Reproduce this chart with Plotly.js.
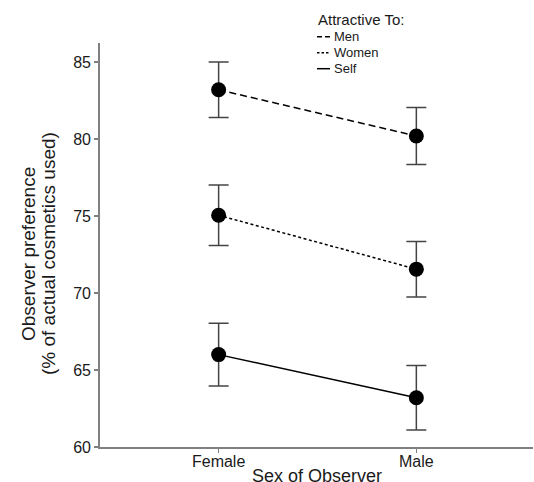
<!DOCTYPE html>
<html>
<head>
<meta charset="utf-8">
<script src="https://cdn.plot.ly/plotly-3.0.1.min.js"></script>
<style>html,body{margin:0;padding:0;background:#fff;}#chart{width:534px;height:482px;}</style>
</head>
<body>
<div id="chart"></div>
<script>
const categories = ["Female", "Male"];
const seriesNames = ["Men", "Women", "Self"];
const menValues = [83.2, 80.2];
const menErrors = [1.8, 1.85];
const womenValues = [75.05, 71.55];
const womenErrors = [1.97, 1.8];
const selfValues = [66.0, 63.2];
const selfErrors = [2.03, 2.1];
const yTicks = [60, 65, 70, 75, 80, 85];

const dashes = ["7px,4px", "3px,2.5px", "solid"];
const legendDashes = ["5px,3px", "2.5px,2px", "solid"];
const vals = [menValues, womenValues, selfValues];
const errs = [menErrors, womenErrors, selfErrors];

const traces = seriesNames.map((name, i) => ({
  type: "scatter",
  mode: "lines+markers",
  name: name,
  showlegend: false,
  x: categories,
  y: vals[i],
  line: {color: "#000", width: 1.5, dash: dashes[i]},
  marker: {color: "#000", size: 15, symbol: "circle"},
  error_y: {type: "data", array: errs[i], visible: true, color: "#444", thickness: 1.5, width: 10}
}));

// plot area geometry (pixels)
const M = {l: 100, r: 1, t: 43, b: 35};
const W = 534, H = 482;
const pw = W - M.l - M.r, ph = H - M.t - M.b;
const px = x => (x - M.l) / pw;
const py = y => (H - M.b - y) / ph;

const font = "Liberation Sans, Arial, sans-serif";
const annotations = [
  {xref: "paper", yref: "paper", x: px(316), y: py(19.5), xanchor: "left", yanchor: "middle",
   text: "Attractive To:", showarrow: false, font: {size: 15, family: font, color: "#1a1a1a"}},
  {xref: "paper", yref: "paper", x: px(28), y: py(254), xanchor: "center", yanchor: "middle", textangle: -90,
   text: "Observer preference", showarrow: false, font: {size: 19, family: font, color: "#1a1a1a"}},
  {xref: "paper", yref: "paper", x: px(48), y: py(254), xanchor: "center", yanchor: "middle", textangle: -90,
   text: "(% of actual cosmetics used)", showarrow: false, font: {size: 19, family: font, color: "#1a1a1a"}},
  {xref: "paper", yref: "paper", x: px(317), y: py(475.5), xanchor: "center", yanchor: "middle",
   text: "Sex of Observer", showarrow: false, font: {size: 18, family: font, color: "#1a1a1a"}}
];
const shapes = [];
seriesNames.forEach((name, i) => {
  const yc = 36.7 + 16 * i;
  shapes.push({type: "line", xref: "paper", yref: "paper", x0: px(317), x1: px(330), y0: py(yc), y1: py(yc),
    line: {color: "#000", width: 1.5, dash: legendDashes[i]}});
  annotations.push({xref: "paper", yref: "paper", x: px(331.5), y: py(yc), xanchor: "left", yanchor: "middle",
    text: name, showarrow: false, font: {size: 13, family: font, color: "#1a1a1a"}});
});

const layout = {
  width: W, height: H,
  margin: M,
  paper_bgcolor: "#fff", plot_bgcolor: "#fff",
  font: {family: font, color: "#1a1a1a"},
  showlegend: false,
  xaxis: {
    type: "category", range: [-0.6, 1.59],
    showline: true, linecolor: "#808080", linewidth: 1.8,
    ticks: "outside", ticklen: 4, tickcolor: "#808080", tickwidth: 1.5,
    ticklabelstandoff: -5,
    showgrid: false, zeroline: false,
    tickfont: {size: 16, family: font, color: "#1a1a1a"},
    automargin: false
  },
  yaxis: {
    range: [60, 86.24],
    tickvals: yTicks,
    showline: true, linecolor: "#808080", linewidth: 1.8,
    ticks: "outside", ticklen: 4, tickcolor: "#808080", tickwidth: 1.5,
    showgrid: false, zeroline: false,
    tickfont: {size: 16, family: font, color: "#1a1a1a"},
    automargin: false
  },
  annotations: annotations,
  shapes: shapes
};

Plotly.newPlot("chart", traces, layout, {staticPlot: true, displayModeBar: false});
</script>
</body>
</html>
